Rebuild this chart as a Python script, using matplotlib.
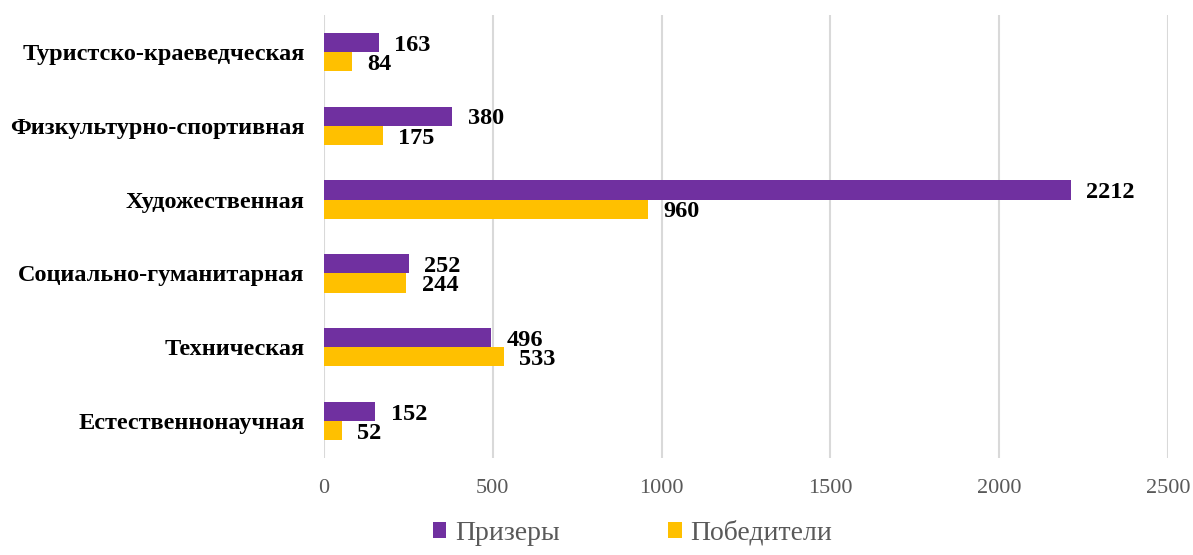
import matplotlib.pyplot as plt
import numpy as np

categories = ["Естественнонаучная", "Техническая", "Социально-гуманитарная",
              "Художественная", "Физкультурно-спортивная", "Туристско-краеведческая"]
prizers = [152, 496, 252, 2212, 380, 163]
winners = [52, 533, 244, 960, 175, 84]

purple = "#7030A0"
yellow = "#FFC000"

plt.rcParams['font.family'] = ['Liberation Serif', 'DejaVu Serif']

fig = plt.figure(figsize=(11.93, 5.55), dpi=100)
ax = fig.add_axes([0.2716, 0.175, 0.7075, 0.798])

y = np.arange(len(categories))
h = 0.26
b1 = ax.barh(y + h / 2, prizers, height=h, color=purple, label="Призеры", zorder=3)
b2 = ax.barh(y - h / 2, winners, height=h, color=yellow, label="Победители", zorder=3)

for bars in (b1, b2):
    for bar in bars:
        w = bar.get_width()
        ax.annotate(f"{int(w)}", (w, bar.get_y() + bar.get_height() / 2),
                    xytext=(11, -2), textcoords="offset points",
                    ha="left", va="center", fontsize=17.5, fontweight="bold", color="black")

ax.set_xlim(0, 2500)
ax.set_ylim(-0.5, len(categories) - 0.5)
ax.set_xticks(range(0, 2501, 500))
ax.set_yticks(y)
ax.set_yticklabels(categories, fontsize=17.5, fontweight="bold")
ax.tick_params(axis="x", colors="#595959", labelsize=16, length=0, pad=15)
ax.tick_params(axis="y", length=0, pad=14)
ax.grid(axis="x", color="#d9d9d9", linewidth=1.5, zorder=0)
for s in ax.spines.values():
    s.set_visible(False)

leg = fig.legend(loc="lower center", bbox_to_anchor=(0.53, -0.028), ncol=2, frameon=False,
                 fontsize=20, handlelength=0.5, handleheight=0.5, handletextpad=0.3,
                 columnspacing=3.9)
for t in leg.get_texts():
    t.set_color("#595959")

fig.savefig("out.png", dpi=100)
